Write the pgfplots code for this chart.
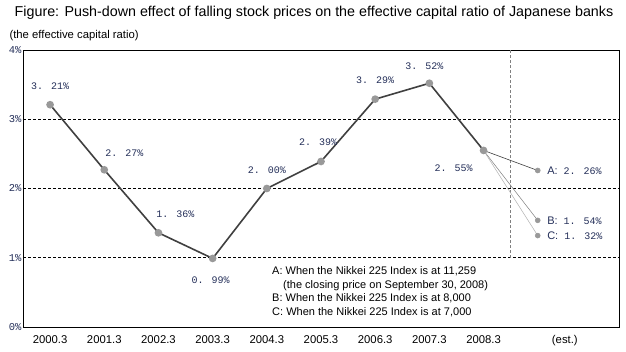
\documentclass[border=0pt]{standalone}
\usepackage{pgfplots}
\pgfplotsset{compat=1.18}
\usepackage{fontspec}
\setmainfont{Liberation Sans}
\newfontfamily\jfont{Liberation Mono}
\definecolor{lineC}{HTML}{404040}
\definecolor{markC}{HTML}{999999}
\definecolor{numC}{HTML}{25305A}
\begin{document}
\begin{tikzpicture}[x=1pt,y=1pt]
\useasboundingbox (0,0) rectangle (626,352);
\fill[white] (0,0) rectangle (626,352);
\node[anchor=base, font=\fontsize{14.3}{16}\selectfont] at (314,335) {Figure: Push-down effect of falling stock prices on the effective capital ratio of Japanese banks};
\node[anchor=base west, font=\fontsize{11.3}{13}\selectfont] at (6,313) {(the effective capital ratio)};
\begin{axis}[
  at={(23pt,25pt)}, anchor=south west,
  width=596pt, height=277pt, scale only axis,
  xmin=-0.5, xmax=10.5, ymin=0, ymax=4,
  xtick={0,1,2,3,4,5,6,7,8,9.5},
  xticklabels={2000.3,2001.3,2002.3,2003.3,2004.3,2005.3,2006.3,2007.3,2008.3,(est.)},
  ytick={0,1,2,3,4},
  yticklabels={0\%,1\%,2\%,3\%,4\%},
  major tick length=0pt,
  ymajorgrids,
  major grid style={black, line width=0.6pt, dash pattern=on 3pt off 2pt},
  axis line style={black, line width=0.8pt},
  xticklabel style={font=\fontsize{11.3}{13}\selectfont, yshift=-5pt},
  yticklabel style={font=\jfont\fontsize{10.5}{12}\selectfont, text=numC, xshift=2pt},
  clip=false,
]
\draw[gray, line width=0.5pt, dash pattern=on 3pt off 2pt] (axis cs:8.5,1) -- (axis cs:8.5,4);
\addplot[lineC, line width=0.6pt, mark=*, mark size=2.5pt, mark options={markC, draw=markC, fill=markC}] coordinates {(8,2.55) (9,2.26)};
\addplot[gray, line width=0.5pt, mark=*, mark size=2.5pt, mark options={markC, draw=markC, fill=markC}] coordinates {(8,2.55) (9,1.54)};
\addplot[black!30, line width=0.5pt, mark=*, mark size=2.5pt, mark options={markC, draw=markC, fill=markC}] coordinates {(8,2.55) (9,1.32)};
\addplot[lineC, line width=1.6pt, mark=*, mark size=3pt, mark options={markC, draw=markC, fill=markC}] coordinates {
(0,3.21) (1,2.27) (2,1.36) (3,0.99) (4,2.00) (5,2.39) (6,3.29) (7,3.52) (8,2.55)};
\begin{scope}[every node/.style={font=\jfont\fontsize{10}{12}\selectfont, text=numC}]
\node at (axis cs:0,3.21) [yshift=18pt] {3. 21\%};
\node at (axis cs:1,2.27) [xshift=20pt, yshift=17pt] {2. 27\%};
\node at (axis cs:2,1.36) [xshift=17pt, yshift=19pt] {1. 36\%};
\node at (axis cs:3,0.99) [xshift=-2pt, yshift=-22pt] {0. 99\%};
\node at (axis cs:4,2.00) [yshift=18pt] {2. 00\%};
\node at (axis cs:5,2.39) [xshift=-3pt, yshift=19pt] {2. 39\%};
\node at (axis cs:6,3.29) [yshift=19pt] {3. 29\%};
\node at (axis cs:7,3.52) [xshift=-5pt, yshift=17pt] {3. 52\%};
\node at (axis cs:8,2.55) [xshift=-30pt, yshift=-18pt] {2. 55\%};
\node[anchor=west] at (axis cs:9,2.26) [xshift=6pt] {{\rmfamily\fontsize{11}{12}\selectfont A:}~2. 26\%};
\node[anchor=west] at (axis cs:9,1.54) [xshift=6pt] {{\rmfamily\fontsize{11}{12}\selectfont B:}~1. 54\%};
\node[anchor=west] at (axis cs:9,1.32) [xshift=6pt] {{\rmfamily\fontsize{11}{12}\selectfont C:}~1. 32\%};
\end{scope}
\end{axis}
\begin{scope}[every node/.style={anchor=base west, font=\fontsize{11}{13}\selectfont, inner sep=0pt}]
\node at (272,77) {A: When the Nikkei 225 Index is at 11,259};
\node at (283,63.5) {(the closing price on September 30, 2008)};
\node at (272,50) {B: When the Nikkei 225 Index is at 8,000};
\node at (272,36.5) {C: When the Nikkei 225 Index is at 7,000};
\end{scope}
\end{tikzpicture}
\end{document}
